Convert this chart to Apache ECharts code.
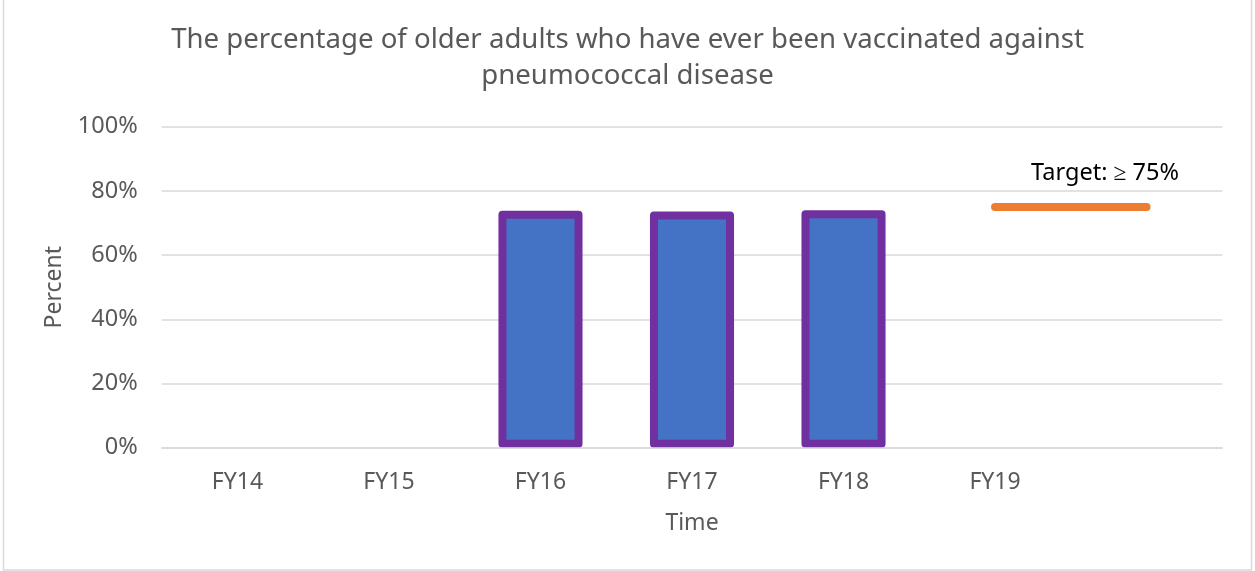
<!DOCTYPE html>
<html>
<head>
<meta charset="utf-8">
<script src="https://cdn.jsdelivr.net/npm/echarts@6/dist/echarts.min.js"></script>
<style>
  html, body { margin: 0; padding: 0; background: #fff; }
  #chart { width: 1255px; height: 571px; }
</style>
</head>
<body>
<div id="chart"></div>
<script>
const categories = ["FY14", "FY15", "FY16", "FY17", "FY18", "FY19", ""];
const percentValues = [null, null, 73.8, 73.6, 74.0, null, null];
const targetValues = [null, null, null, null, null, 75, 75];
const targetLabel = "Target: \u2265 75%";
const yTicks = [0, 20, 40, 60, 80, 100];

const fontFamily = "Noto Sans";
const grey = "#595959";

const chart = echarts.init(document.getElementById("chart"));

const lastIndex = categories.length - 1;

const option = {
  animation: false,
  backgroundColor: "#fff",
  textStyle: { fontFamily },
  title: {
    text: "The percentage of older adults who have ever been vaccinated against\npneumococcal disease",
    left: "center",
    top: 17,
    textStyle: {
      fontFamily,
      fontSize: 27.6,
      fontWeight: "normal",
      color: grey,
      lineHeight: 36,
    },
  },
  graphic: [
    {
      type: "rect",
      shape: { x: 3.5, y: -2, width: 1248, height: 572 },
      style: { fill: "none", stroke: "#d9d9d9", lineWidth: 1.5 },
      silent: true,
    },
  ],
  grid: { left: 161.7, right: 32.7, top: 126.7, bottom: 123.3 },
  xAxis: {
    type: "category",
    data: categories,
    z: 10,
    axisLine: { lineStyle: { color: "#d9d9d9", width: 1.5 } },
    axisTick: { show: false },
    axisLabel: { color: grey, fontSize: 23, margin: 23, fontFamily },
    name: "Time",
    nameLocation: "middle",
    nameGap: 64,
    nameTextStyle: { color: grey, fontSize: 23, fontFamily },
  },
  yAxis: {
    type: "value",
    min: yTicks[0],
    max: yTicks[yTicks.length - 1],
    interval: yTicks[1] - yTicks[0],
    axisLine: { show: false },
    axisTick: { show: false },
    axisLabel: { color: grey, fontSize: 23.5, margin: 24, fontFamily, formatter: "{value}%" },
    splitLine: { lineStyle: { color: "#d9d9d9", width: 1.5 } },
    name: "Percent",
    nameLocation: "middle",
    nameRotate: 90,
    nameGap: 96,
    nameTextStyle: { color: grey, fontSize: 23, fontFamily },
  },
  series: [
    {
      name: "Percent",
      type: "bar",
      data: percentValues,
      barWidth: "55.5%",
      itemStyle: {
        color: "#4472C4",
        borderColor: "#7030A0",
        borderWidth: 8,
        borderJoin: "round",
      },
    },
    {
      name: "Target",
      type: "line",
      data: targetValues,
      showSymbol: false,
      connectNulls: false,
      lineStyle: { color: "#ED7D31", width: 8, cap: "round" },
      markPoint: {
        symbol: "circle",
        symbolSize: 0,
        itemStyle: { color: "transparent" },
        label: {
          show: true,
          position: "inside",
          offset: [-41.5, -34],
          formatter: targetLabel,
          color: "#000",
          fontSize: 23.5,
          fontFamily,
        },
        data: [{ coord: [lastIndex, targetValues[lastIndex]] }],
      },
    },
  ],
};

chart.setOption(option);
</script>
</body>
</html>
